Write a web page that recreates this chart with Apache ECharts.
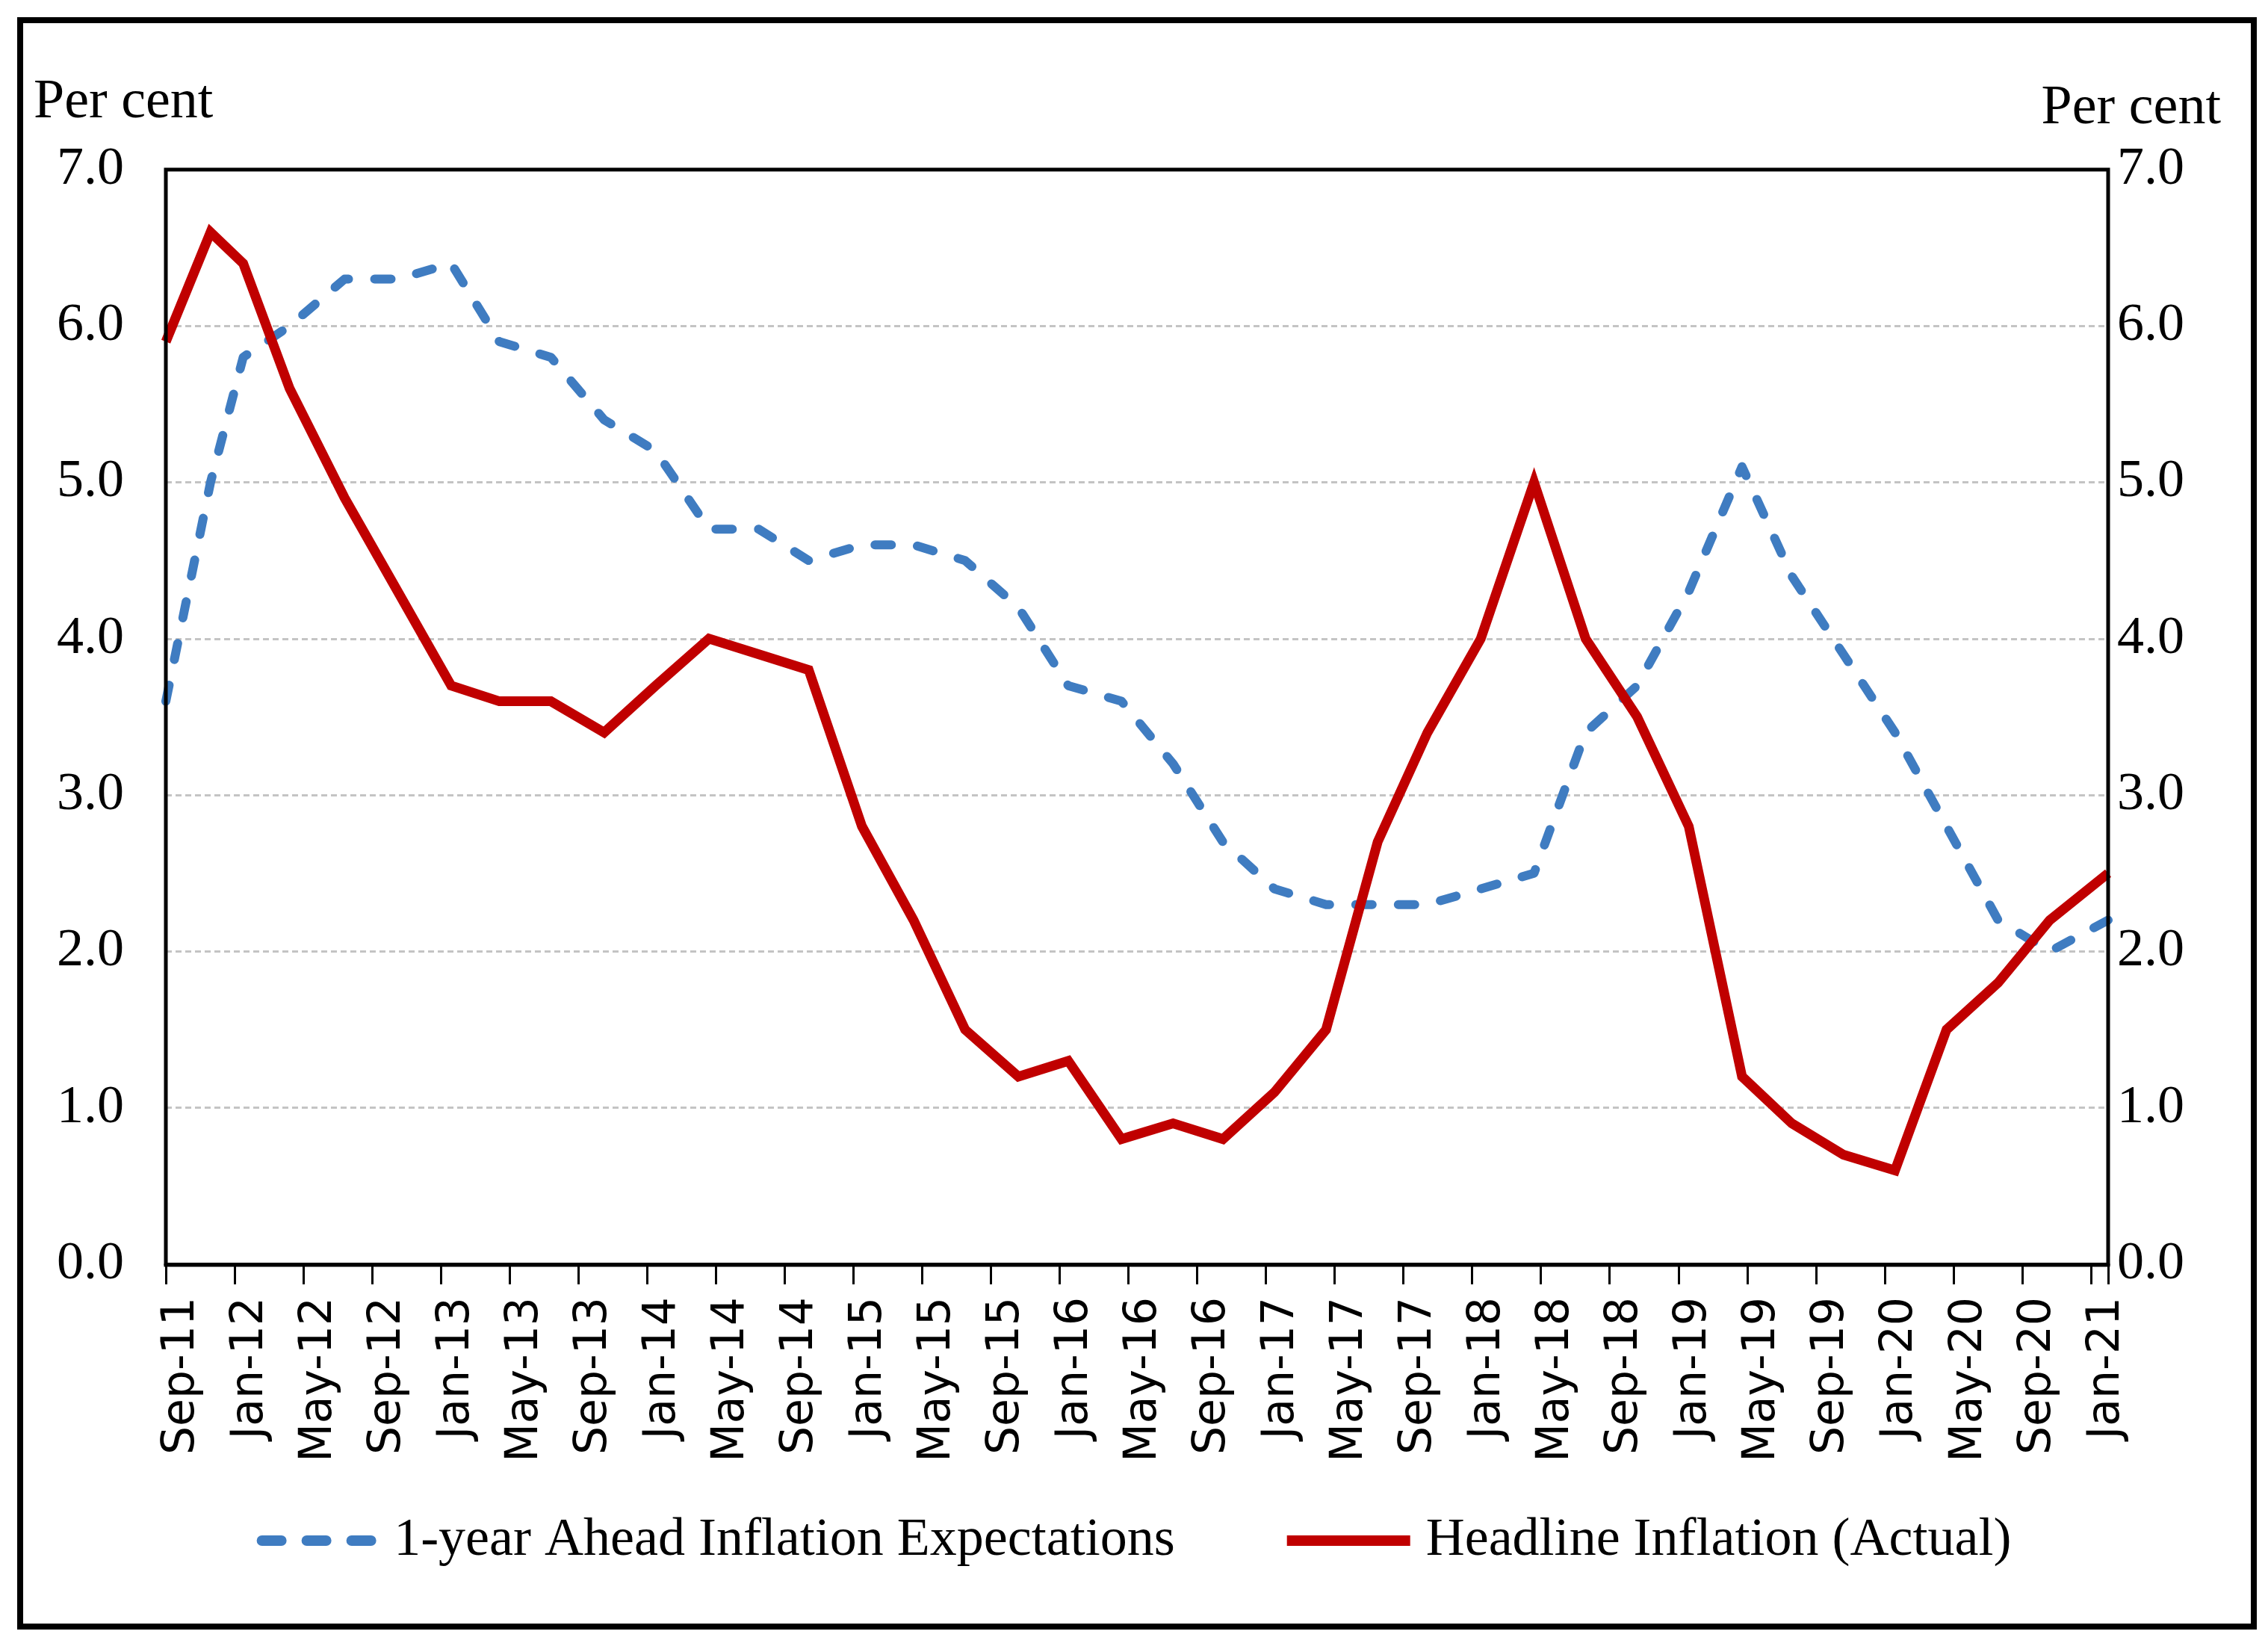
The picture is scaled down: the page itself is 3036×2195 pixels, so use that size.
<!DOCTYPE html>
<html>
<head>
<meta charset="utf-8">
<script src="https://cdn.jsdelivr.net/npm/echarts@6/dist/echarts.min.js"></script>
<style>
  html, body { margin: 0; padding: 0; background: #ffffff; }
  #chart { width: 3036px; height: 2195px; }
</style>
</head>
<body>
<div id="chart"></div>
<script>
// Survey rounds: months elapsed since Sep-2011
const surveyMonth = [0, 2.6, 4.5, 7.2, 10.4, 13.5, 16.6, 19.4, 22.4, 25.5, 28.5, 31.6, 34.5, 37.4,
  40.5, 43.5, 46.5, 49.6, 52.5, 55.6, 58.6, 61.5, 64.5, 67.5, 70.5, 73.4, 76.5, 79.6,
  82.6, 85.6, 88.6, 91.7, 94.6, 97.6, 100.6, 103.6, 106.6, 109.6, 113];

const expectations = [3.6, 5.0, 5.8, 6.0, 6.3, 6.3, 6.4, 5.9, 5.8, 5.4, 5.2, 4.7, 4.7, 4.5,
  4.6, 4.6, 4.5, 4.2, 3.7, 3.6, 3.2, 2.7, 2.4, 2.3, 2.3, 2.3, 2.4, 2.5,
  3.4, 3.7, 4.3, 5.1, 4.4, 3.9, 3.4, 2.8, 2.2, 2.0, 2.2];

const headline = [5.9, 6.6, 6.4, 5.6, 4.9, 4.3, 3.7, 3.6, 3.6, 3.4, 3.7, 4.0, 3.9, 3.8,
  2.8, 2.2, 1.5, 1.2, 1.3, 0.8, 0.9, 0.8, 1.1, 1.5, 2.7, 3.4, 4.0, 5.0,
  4.0, 3.5, 2.8, 1.2, 0.9, 0.7, 0.6, 1.5, 1.8, 2.2, 2.5];

const tickLabels = ['Sep-11', 'Jan-12', 'May-12', 'Sep-12', 'Jan-13', 'May-13', 'Sep-13', 'Jan-14',
  'May-14', 'Sep-14', 'Jan-15', 'May-15', 'Sep-15', 'Jan-16', 'May-16', 'Sep-16', 'Jan-17',
  'May-17', 'Sep-17', 'Jan-18', 'May-18', 'Sep-18', 'Jan-19', 'May-19', 'Sep-19', 'Jan-20',
  'May-20', 'Sep-20', 'Jan-21'];

const seriesNames = ['1-year Ahead Inflation Expectations', 'Headline Inflation (Actual)'];
const unitLabel = 'Per cent';

const serif = 'Liberation Serif, Times New Roman, serif';
const sans = 'DejaVu Sans, Verdana, sans-serif';

const blue = '#3f7cc1';
const red = '#c00000';

const chart = echarts.init(document.getElementById('chart'), null, { renderer: 'canvas' });

const yAxisCommon = {
  type: 'value', min: 0, max: 7, interval: 1,
  axisLine: { show: false }, axisTick: { show: false },
  axisLabel: { formatter: v => v.toFixed(1), fontFamily: serif, fontSize: 72, color: '#000' }
};

// three rounded dashes for the legend icon of the dashed series
const dashIcon = 'path://M7,0H33A7,7 0 0 1 33,14H7A7,7 0 0 1 7,0Z' +
  'M67,0H93A7,7 0 0 1 93,14H67A7,7 0 0 1 67,0Z' +
  'M127,0H153A7,7 0 0 1 153,14H127A7,7 0 0 1 127,0Z';

chart.setOption({
  animation: false,
  backgroundColor: '#ffffff',
  title: [
    { text: unitLabel, left: 40, top: 96, textStyle: { fontFamily: serif, fontSize: 74, fontWeight: 'normal', color: '#000' } },
    { text: unitLabel, right: 58, top: 104, textStyle: { fontFamily: serif, fontSize: 74, fontWeight: 'normal', color: '#000' } }
  ],
  grid: { left: 222, right: 214, top: 227, bottom: 503, show: false },
  xAxis: {
    type: 'value', min: 0, max: 113, interval: 4,
    axisLine: { show: true, onZero: false, lineStyle: { color: '#000', width: 5 } },
    axisTick: { show: true, inside: false, length: 27, lineStyle: { color: '#000', width: 3 } },
    splitLine: { show: false },
    axisLabel: {
      rotate: 90, margin: 44, fontFamily: sans, fontSize: 60, color: '#000',
      verticalAlign: 'top', lineHeight: 42,
      formatter: v => (v % 4 === 0 && tickLabels[v / 4] !== undefined) ? tickLabels[v / 4] : ''
    }
  },
  yAxis: [
    Object.assign({}, yAxisCommon, {
      position: 'left',
      axisLabel: Object.assign({}, yAxisCommon.axisLabel, { margin: 56 }),
      splitLine: { show: true, showMinLine: false, showMaxLine: false, lineStyle: { color: '#c4c4c4', width: 3, type: [8, 5] } }
    }),
    Object.assign({}, yAxisCommon, {
      position: 'right',
      axisLabel: Object.assign({}, yAxisCommon.axisLabel, { margin: 12 }),
      splitLine: { show: false }
    })
  ],
  legend: {
    bottom: 92, left: 'center',
    itemWidth: 165, itemHeight: 14, itemGap: 150,
    textStyle: { fontFamily: serif, fontSize: 72, color: '#000', padding: [0, 0, 0, 16] },
    data: [
      { name: seriesNames[0], icon: dashIcon, itemStyle: { color: blue } },
      { name: seriesNames[1], icon: 'rect', itemStyle: { color: red } }
    ]
  },
  graphic: [
    { type: 'rect', left: 23, top: 23, shape: { x: 0, y: 0, width: 2990, height: 2150 },
      style: { fill: 'none', stroke: '#000', lineWidth: 8 }, silent: true, z: 100 },
    { type: 'rect', left: 219.5, top: 224.5, shape: { x: 0, y: 0, width: 2600, height: 1466 },
      style: { fill: 'none', stroke: '#000', lineWidth: 5 }, silent: true, z: 100 }
  ],
  series: [
    {
      name: seriesNames[0], type: 'line', symbol: 'none', yAxisIndex: 0,
      data: surveyMonth.map((m, i) => [m, expectations[i]]),
      lineStyle: { color: blue, width: 12, type: [22, 35], cap: 'round', join: 'round' },
      itemStyle: { color: blue }
    },
    {
      name: seriesNames[1], type: 'line', symbol: 'none', yAxisIndex: 0,
      data: surveyMonth.map((m, i) => [m, headline[i]]),
      lineStyle: { color: red, width: 13, type: 'solid', join: 'miter' },
      itemStyle: { color: red }
    }
  ]
});
</script>
</body>
</html>
